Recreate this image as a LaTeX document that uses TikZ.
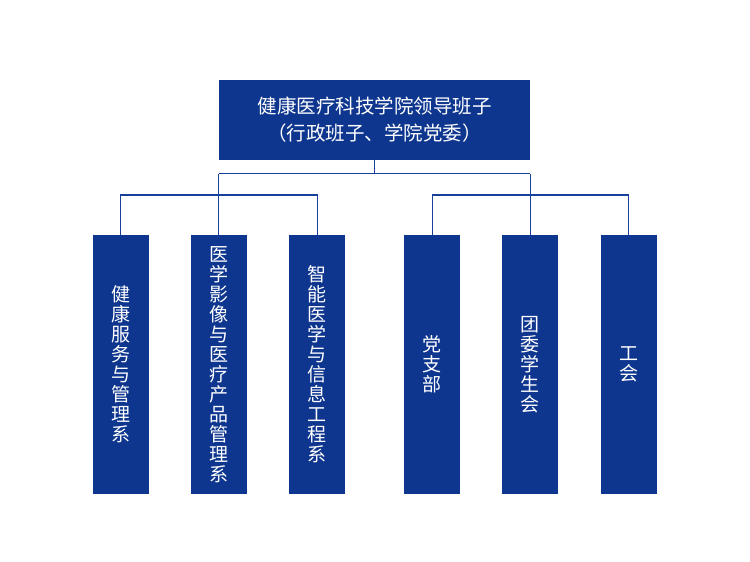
\documentclass[tikz,border=0pt]{standalone}
\usepackage{fontspec}
\setmainfont{Noto Sans CJK SC}
\definecolor{boxblue}{RGB}{14,54,143}
\definecolor{lineblue}{RGB}{22,64,156}
\tikzset{
  topbox/.style={fill=boxblue, text=white, minimum width=311pt, minimum height=80pt, inner sep=0pt, align=center, font=\fontsize{19.5pt}{27pt}\selectfont},
  deptbox/.style={fill=boxblue, text=white, minimum width=56pt, minimum height=259pt, inner sep=0pt, align=center, font=\fontsize{19pt}{20pt}\selectfont},
  link/.style={draw=lineblue, line width=1.4pt}
}
\begin{document}
\begin{tikzpicture}[x=1pt,y=-1pt]
\useasboundingbox (0,0) rectangle (750,562);
\node[topbox] (top) at (374.5,119.5) {健康医疗科技学院领导班子\\（行政班子、学院党委）};
\node[deptbox] (b1) at (120.5,364.5) {健\\康\\服\\务\\与\\管\\理\\系};
\node[deptbox] (b2) at (218.7,364.5) {医\\学\\影\\像\\与\\医\\疗\\产\\品\\管\\理\\系};
\node[deptbox] (b3) at (317.2,364.5) {智\\能\\医\\学\\与\\信\\息\\工\\程\\系};
\node[deptbox] (b4) at (432.2,364.5) {党\\支\\部};
\node[deptbox] (b5) at (530.3,364.5) {团\\委\\学\\生\\会};
\node[deptbox] (b6) at (628.7,364.5) {工\\会};
\coordinate (h1) at (0,173.5);
\coordinate (h2) at (0,195);
\draw[link] (top.south) -- (top.south |- h1);
\draw[link] (b2.north |- h1) -- (b5.north |- h1);
\draw[link] (b2.north |- h1) -- (b2.north);
\draw[link] (b5.north |- h1) -- (b5.north);
\draw[link] (b1.north) -- (b1.north |- h2) -- (b3.north |- h2) -- (b3.north);
\draw[link] (b4.north) -- (b4.north |- h2) -- (b6.north |- h2) -- (b6.north);
\end{tikzpicture}
\end{document}
